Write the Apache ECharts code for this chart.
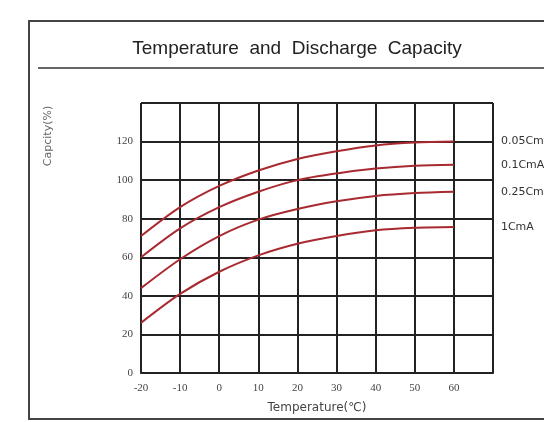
<!DOCTYPE html>
<html>
<head>
<meta charset="utf-8">
<script src="https://cdn.jsdelivr.net/npm/echarts@6/dist/echarts.min.js"></script>
<style>
  html, body { margin: 0; padding: 0; background: #fff; }
  #chart { width: 544px; height: 422px; }
</style>
</head>
<body>
<div id="chart"></div>
<script>
// temperature (℃) and capacity (%)
const temps = [-20, -10, 0, 10, 20, 30, 40, 50, 60]
const cap005 = [71, 86, 97, 105, 111, 115, 118, 119.5, 120]
const cap01 = [60, 75, 86, 94, 100, 103.5, 106, 107.5, 108]
const cap025 = [44, 59, 71, 79.5, 85, 89, 91.8, 93.3, 94]
const cap1 = [26, 41, 52.5, 61, 67, 71, 74, 75.3, 75.7]
const seriesNames = ['0.05CmA', '0.1CmA', '0.25CmA', '1CmA']
const xTicks = [-20, -10, 0, 10, 20, 30, 40, 50, 60]
const yTicks = [0, 20, 40, 60, 80, 100, 120]

const chart = echarts.init(document.getElementById('chart'))
const tickFont = 'Liberation Serif, serif'
const lineColor = '#a82a30'

const mkSeries = (name, vals) => ({
  name,
  type: 'line',
  smooth: 0.3,
  symbol: 'none',
  data: temps.map((t, i) => [t, vals[i]]),
  lineStyle: { color: lineColor, width: 2 },
  endLabel: {
    show: true,
    formatter: '{a}',
    offset: [39, 0],
    color: '#333',
    fontSize: 11,
    fontFamily: 'DejaVu Sans, sans-serif'
  }
})

chart.setOption({
  animation: false,
  backgroundColor: '#fff',
  title: {
    text: 'Temperature  and  Discharge  Capacity',
    left: 292,
    textAlign: 'center',
    top: 34,
    textStyle: { fontSize: 19, fontWeight: 'normal', color: '#222', fontFamily: 'Liberation Sans, Arial, sans-serif' }
  },
  graphic: [
    { type: 'rect', shape: { x: 29, y: 21, width: 600, height: 398 }, style: { fill: 'none', stroke: '#444', lineWidth: 2 } },
    { type: 'line', shape: { x1: 38, y1: 68, x2: 544, y2: 68 }, style: { stroke: '#333', lineWidth: 1.5 } },
    {
      type: 'text', x: 48, y: 136, rotation: Math.PI / 2,
      style: { text: 'Capcity(%)', fill: '#666', fontSize: 11, fontFamily: 'DejaVu Sans, sans-serif', align: 'center', verticalAlign: 'middle' }
    }
  ],
  grid: { left: 141, right: 51, top: 103, bottom: 49 },
  xAxis: {
    type: 'value',
    min: -20,
    max: 70,
    interval: 10,
    name: 'Temperature(℃)',
    nameLocation: 'middle',
    nameGap: 29,
    nameTextStyle: { color: '#444', fontSize: 12, fontFamily: 'DejaVu Sans, sans-serif' },
    axisLine: { show: true, lineStyle: { color: '#222', width: 2 } },
    axisTick: { show: false },
    splitLine: { show: true, lineStyle: { color: '#222', width: 2 } },
    axisLabel: {
      color: '#444', fontSize: 11, fontFamily: tickFont, margin: 10,
      formatter: v => xTicks.includes(v) ? String(v) : ''
    }
  },
  yAxis: {
    type: 'value',
    min: 0,
    max: 140,
    interval: 20,
    axisLine: { show: true, lineStyle: { color: '#222', width: 2 } },
    axisTick: { show: false },
    splitLine: { show: true, lineStyle: { color: '#222', width: 2 } },
    axisLabel: {
      color: '#444', fontSize: 11, fontFamily: tickFont, margin: 8,
      formatter: v => yTicks.includes(v) ? String(v) : ''
    }
  },
  series: [
    mkSeries(seriesNames[0], cap005),
    mkSeries(seriesNames[1], cap01),
    mkSeries(seriesNames[2], cap025),
    mkSeries(seriesNames[3], cap1)
  ]
})

window.addEventListener('resize', () => chart.resize())
</script>
</body>
</html>
